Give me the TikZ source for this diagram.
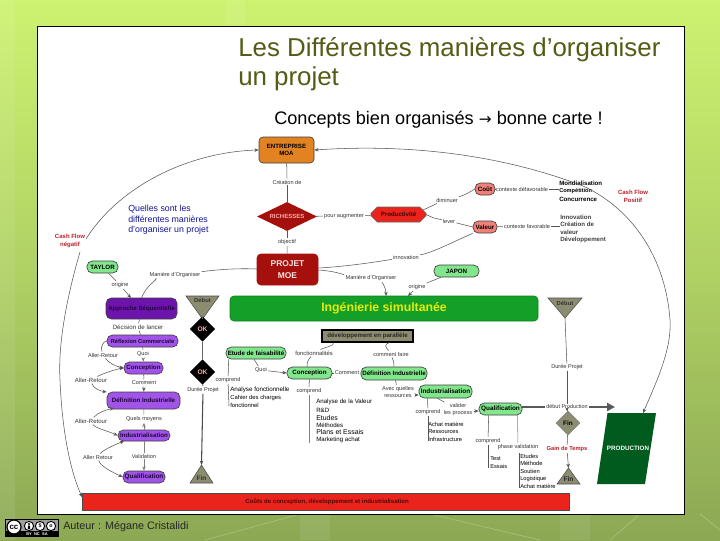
\documentclass[tikz,border=0pt]{standalone}
\usepackage{fontspec}
\setmainfont{Liberation Sans}
\newfontfamily\djv{DejaVu Sans}
\usetikzlibrary{shapes.geometric,shapes.misc,arrows.meta}
\definecolor{bgtop}{RGB}{205,242,112}
\definecolor{bgbot}{RGB}{140,168,84}
\definecolor{ttl}{RGB}{84,92,22}
\definecolor{orng}{RGB}{226,130,32}
\definecolor{dred}{RGB}{165,16,12}
\definecolor{rred}{RGB}{234,36,28}
\definecolor{lgrn}{RGB}{130,230,140}
\definecolor{ingr}{RGB}{20,160,40}
\definecolor{dgrn}{RGB}{0,92,30}
\definecolor{khak}{RGB}{140,140,112}
\definecolor{dpur}{RGB}{108,20,172}
\definecolor{lpur}{RGB}{160,84,232}
\definecolor{salm}{RGB}{240,128,120}
\definecolor{conn}{RGB}{85,85,85}
\definecolor{qblu}{RGB}{20,20,150}
\definecolor{cfr}{RGB}{190,30,40}
\definecolor{pinkt}{RGB}{250,170,170}
\newcommand{\fsz}[1]{\fontsize{#1}{#1}\selectfont}
\tikzset{
 x=0.75pt,y=-0.75pt,
 bw/.style={minimum width=#1*0.75pt},
 bh/.style={minimum height=#1*0.75pt},
 lbl/.style={inner sep=0.8pt,font=\fsz{4.2},text=black!80},
 lst/.style={inner sep=0pt,anchor=west,font=\fsz{4.6},text=black},
 rbox/.style={draw=black!75,line width=0.5pt,rounded corners=3pt,inner sep=0pt,font=\bfseries\fsz{4.65}},
 gbox/.style={rbox,fill=lgrn},
 pbox/.style={rbox,fill=lpur,text=black!70!dpur},
 cn/.style={draw=conn,line width=0.4pt},
 ar/.style={cn,-{Stealth[length=3.2pt,width=2.6pt]}},
 okd/.style={diamond,fill=black,text=pinkt,inner sep=0pt,aspect=1,minimum size=19pt,font=\bfseries\fsz{5}},
 khk/.style={fill=khak,draw=black!70,line width=0.4pt},
 cash/.style={font=\bfseries\fsz{4.5},text=cfr,align=center,inner sep=0pt},
}
\begin{document}
\begin{tikzpicture}
\useasboundingbox (0,0) rectangle (720,540);
% slide background
\shade[top color=bgtop,bottom color=bgbot,middle color=bgtop!55!bgbot] (0,0) rectangle (720,540);
\draw[white,opacity=0.25,line width=0.5pt] (205,540) -- (300,514) (430,514) -- (540,540) (610,540) -- (640,514) (700,514) -- (720,530);
\fill[white,opacity=0.08] (560,514) rectangle (590,540) (300,514) rectangle (330,540) (0,0) rectangle (15,540) (225,0) rectangle (245,27);
\fill[white] (37,26.5) rectangle (684.5,514);
\draw[black,line width=0.7pt] (37,26.5) rectangle (684.5,514);
% title
\node[anchor=west,inner sep=0pt,text=ttl,font=\fsz{19.4}] (t1) at (238,50) {Les Différentes manières d’organiser};
\node[anchor=west,inner sep=0pt,text=ttl,font=\fsz{19.4}] (t2) at (238,79) {un projet};
\node[anchor=west,inner sep=0pt,font=\fsz{13.6}] (t3) at (274,120) {Concepts bien organisés {\djv\fsz{11.5}→} bonne carte !};
% footer
\node[anchor=west,inner sep=0pt,text=black!85,font=\fsz{8.1}] (aut) at (63,527) {Auteur : Mégane Cristalidi};
\fill[black] (5,519) rectangle (58.5,537);
\fill[gray!75] (6,520) rectangle (57.5,531);
\draw[black,fill=white,line width=0.9pt] (14,527) circle[radius=7];
\node[inner sep=0pt,font=\bfseries\fsz{6}] (cc) at (14,527) {cc};
\foreach \cx in {29,40,51}{\draw[black,fill=white,line width=0.7pt] (\cx,526) circle[radius=4.6];}
\fill[black] (29,524) circle[radius=1.1] (27.8,525.5) rectangle (30.2,529);
\node[inner sep=0pt,font=\bfseries\fsz{4}] (nc) at (40,526) {\$};
\node[inner sep=0pt,font=\bfseries\fsz{4}] (sa) at (51,526) {o};
\node[inner sep=0pt,text=white,font=\bfseries\fsz{3}] (bynd) at (37,534) {BY\ \ NC\ \ SA};

% red bar
\node[draw=black!70,fill=rred,bw=487,bh=17,inner sep=0pt,anchor=north west,font=\bfseries\fsz{4.6},text=dred!80!black] (bar) at (82,493) {};
\node[inner sep=0pt,font=\bfseries\fsz{4.55},text=black!50!dred] (bart) at (327,501.5) {Coûts de conception, développement et industrialisation};

% main nodes, top
\node[rbox,fill=orng,bw=55,bh=26,align=center,font=\bfseries\fsz{4.6}] (ent) at (286.5,150) {ENTREPRISE\\[1pt]MOA};
\node[diamond,fill=dred,bw=60,bh=29,aspect=2,inner sep=0pt,text=pinkt,font=\bfseries\fsz{4.5}] (ric) at (287,216.5) {RICHESSES};
\node[chamfered rectangle,chamfered rectangle xsep=3pt,chamfered rectangle ysep=3pt,draw=black!60,fill=rred,bw=55,bh=15,inner sep=0pt,font=\bfseries\fsz{4.6},text=black!70!dred] (pro) at (398.5,214.5) {Productivité};
\node[rbox,fill=dred,draw=dred,bw=61,bh=31,align=center,text=pinkt!30!white,font=\bfseries\fsz{6.3}] (moe) at (287.5,269.5) {PROJET\\[2.5pt]MOE};
\node[rbox,fill=salm,bw=20,bh=12,rounded corners=4pt] (cou) at (485,189) {Coût};
\node[rbox,fill=salm,bw=24,bh=12,rounded corners=4pt] (val) at (485,227) {Valeur};
\node[gbox,bw=31,bh=12,rounded corners=4pt] (tay) at (102.5,267) {TAYLOR};
\node[gbox,bw=45,bh=12,rounded corners=4pt] (jap) at (456.5,271) {JAPON};
\node[rbox,fill=ingr,draw=ingr!80!black,bw=308,bh=25,text=yellow!90!green,font=\bfseries\fsz{9.2}] (ing) at (384,308.5) {Ingénierie simultanée};
\node[rbox,fill=dpur,bw=71,bh=21,text=black!65!dpur,font=\bfseries\fsz{4.6},rounded corners=4pt] (app) at (141.5,308.5) {Approche Séquentielle};

% top labels
\node[lbl] (lcre) at (287,182) {Création de};
\node[lbl] (lpou) at (344,216) {pour augmenter};
\node[lbl] (lobj) at (287,242) {objectif};
\node[lbl] (ldim) at (447,200) {diminuer};
\node[lbl] (llev) at (449,221) {lever};
\node[lbl] (linn) at (406,257) {innovation};
\node[lbl] (lman) at (371,278) {Manière d’Organiser};
\node[lbl] (lmao) at (175,275) {Manière d’Organiser};
\node[lbl] (lor1) at (120,285) {origine};
\node[lbl] (lor2) at (417,287) {origine};
\node[lbl] (lcd) at (522,189) {contexte défavorable};
\node[lbl] (lcf) at (527,226) {contexte favorable};

% lists top right
\node[lst,font=\bfseries\fsz{4.6}] (m1) at (559,183.5) {Mondialisation};
\node[lst,font=\bfseries\fsz{4.2}] (m2) at (559,191) {Compétition};
\node[lst,font=\bfseries\fsz{4.6}] (m3) at (559,199) {Concurrence};
\node[lst,text=black!75,font=\bfseries\fsz{4.6}] (i1) at (560,217) {Innovation};
\node[lst,text=black!75,font=\bfseries\fsz{4.6}] (i2) at (560,224.5) {Création de};
\node[lst,text=black!75,font=\bfseries\fsz{4.6}] (i3) at (560,232) {valeur};
\node[lst,text=black!75,font=\bfseries\fsz{4.6}] (i4) at (560,240) {Développement};
\node[cash] (cfp) at (633,196.5) {Cash Flow\\[1.5pt]Positif};
\node[cash] (cfn) at (70,241) {Cash Flow\\[1.5pt]négatif};
\node[inner sep=0pt,anchor=west,align=left,text=qblu,font=\fsz{6.6}] (ques) at (128,220) {Quelles sont les\\[1.2pt]différentes manières\\[1.2pt]d’organiser un projet};

% top connectors
\draw[cn] (ent) -- (lcre);
\draw[cn] (lcre) -- (ric);
\draw[cn] (ric) -- (lpou);
\draw[cn] (lpou) -- (pro);
\draw[cn] (ric) -- (lobj);
\draw[cn] (lobj) -- (moe);
\draw[cn] (pro.north east) .. controls (432,206) and (438,203) .. (ldim);
\draw[cn] (ldim) .. controls (458,197) and (466,195) .. (cou.west);
\draw[cn] (pro.east) .. controls (432,218) and (438,219) .. (llev);
\draw[cn] (llev) -- (val.west);
\draw[cn] (moe.east |- 0,268) .. controls (340,267) and (370,263) .. (linn);
\draw[cn] (linn) .. controls (432,253) and (455,241) .. (val.south west);
\draw[cn] (moe.east |- 0,270) .. controls (335,271) and (345,275) .. (lman);
\draw[ar] (lman) .. controls (382,282) and (386,288) .. (386,296);
\draw[cn] (moe.west |- 0,269) .. controls (235,268) and (215,270) .. (lmao);
\draw[cn] (lmao) .. controls (160,278) and (146,285) .. (app.north |- 0,298);
\draw[cn] (tay) -- (lor1);
\draw[ar] (lor1) -- (131,298);
\draw[cn] (jap) -- (lor2);
\draw[ar] (lor2) -- (408,296);
\draw[cn] (cou) -- (lcd);
\draw[cn] (lcd) -- (m1.west |- lcd);
\draw[cn] (val) -- (lcf);
\draw[cn] (lcf) -- (i2.west |- lcf);

% big curves
\coordinate (gl1) at (86,239);
\coordinate (gl2) at (80,252);
\draw[ar] (gl1) .. controls (120,185) and (190,152) .. (ent.west);
\draw[ar] (gl2) .. controls (66,300) and (58,345) .. (60,380) .. controls (62,430) and (70,470) .. (82,497);

% left column
\node[pbox,bw=71,bh=12,font=\bfseries\fsz{4.3},rounded corners=4pt] (ref) at (142.5,341) {Réflexion Commerciale};
\node[pbox,bw=39,bh=12,rounded corners=4pt] (con) at (143.5,368) {Conception};
\node[pbox,bw=73,bh=17,rounded corners=4pt] (def) at (143.5,400.5) {Définition Industrielle};
\node[pbox,bw=52,bh=11,rounded corners=4pt] (ind) at (144,435.5) {Industrialisation};
\node[pbox,bw=42,bh=12,rounded corners=4pt,font=\bfseries\fsz{4.8}] (qua) at (144,477) {Qualification};
\node[lbl,font=\fsz{4.6}] (ldec) at (138,327) {Décision de lancer};
\node[lbl] (lquo) at (143,354) {Quoi};
\node[lbl] (lcom) at (144,383) {Comment};
\node[lbl] (lqm) at (144,419) {Quels moyens};
\node[lbl] (lval) at (144,456) {Validation};
\node[lbl] (a1) at (103,355) {Aller-Retour};
\node[lbl,font=\fsz{4.5}] (a2) at (91,380) {Aller-Retour};
\node[lbl,font=\fsz{4.5}] (a3) at (91,421) {Aller-Retour};
\node[lbl] (a4) at (98,457) {Aller Retour};
\draw[cn] (app) -- (ldec);
\draw[cn] (ldec) -- (ref);
\draw[cn] (ref) -- (lquo);
\draw[ar,draw=gray] (lquo) -- (con);
\draw[cn] (con) -- (lcom);
\draw[ar] (lcom) -- (def);
\draw[cn,draw=gray] (def) -- (lqm);
\draw[ar,draw=gray] (ind) -- (lqm);
\draw[cn,draw=gray] (ind) -- (lval);
\draw[ar,draw=gray] (lval) -- (qua);
\draw[cn] (ref.west) .. controls (104,341) and (100,346) .. (a1);
\draw[ar] (a1) .. controls (108,362) and (114,366) .. (con.west);
\draw[ar] (a2) .. controls (100,375) and (112,370) .. (con.west);
\draw[ar] (a2) .. controls (93,388) and (100,391) .. (def.west |- 0,392);
\draw[ar] (a3) .. controls (98,412) and (106,410) .. (114,408);
\draw[ar] (a3) .. controls (95,428) and (108,431) .. (ind.west);
\draw[ar] (a4) .. controls (103,450) and (112,446) .. (124,441);
\draw[ar] (a4) .. controls (100,466) and (112,472) .. (qua.west);

% left timeline
\fill[khk] (186,296) -- (219,296) -- (202.5,319) -- cycle;
\node[inner sep=0pt,font=\bfseries\fsz{4.4},text=black!80] (dl) at (202.5,300.5) {Début};
\coordinate (dla) at (202.5,319);
\node[okd] (ok1) at (202.5,329) {OK};
\node[okd] (ok2) at (202.5,372) {OK};
\node[lbl,font=\fsz{4.2}] (ldp1) at (203,390) {Durée Projet};
\fill[khk] (190,483) -- (213,483) -- (201.5,465) -- cycle;
\node[inner sep=0pt,font=\bfseries\fsz{4.8},text=black!80] (fl) at (201.5,478) {Fin};
\coordinate (fla) at (201.5,465);
\draw[cn,line width=0.8pt,draw=gray!80!black] (dla) -- (ok1);
\draw[cn,line width=0.8pt,draw=gray!80!black] (ok1) -- (ok2);
\draw[cn,draw=gray!80!black,line width=0.8pt] (ok2) -- (ldp1);
\draw[ar,line width=0.8pt,draw=gray!60!black] (ldp1) -- (fla);

% middle
\node[rbox,rounded corners=0pt,fill=khak,draw=black,line width=0.8pt,bw=91,bh=12,font=\bfseries\fsz{4.6},text=black!85] (par) at (367.5,336) {développement en parallèle};
\node[gbox,bw=60,bh=12,rounded corners=4pt] (etu) at (256,353) {Etude de faisabilité};
\node[gbox,bw=45,bh=12,rounded corners=4pt] (con2) at (309.5,373) {Conception};
\node[gbox,bw=66,bh=13,rounded corners=4pt] (def2) at (394,373.5) {Définition Industrielle};
\node[gbox,bw=53,bh=13,rounded corners=4pt,font=\bfseries\fsz{4.8}] (ind2) at (445.5,391.5) {Industrialisation};
\node[gbox,bw=43,bh=12,rounded corners=4pt,font=\bfseries\fsz{4.8}] (qua2) at (500.5,409) {Qualification};
\node[lbl,font=\fsz{4.4}] (lfon) at (314,353) {fonctionnalités};
\node[lbl] (lcfa) at (391,354) {comment faire};
\node[lbl] (lq2) at (261,370) {Quoi};
\node[lbl] (lc2) at (347,373) {Comment};
\node[lbl] (lcp0) at (228,380) {comprend};
\node[lbl] (lcp1) at (309,391) {comprend};
\node[lbl,align=center] (lres) at (398,392) {Avec quelles\\[1.5pt]ressources};
\node[lbl] (lcp2) at (428,412) {comprend};
\node[lbl,align=center] (lvp) at (458,409.5) {valider\\[1pt]les process};
\node[lbl] (lcp3) at (488,441) {comprend};
\node[lbl] (lpha) at (518,447) {phase validation};
\node[lst,font=\fsz{4.7}] (f1) at (230,390) {Analyse fonctionnelle};
\node[lst,font=\fsz{4.4}] (f2) at (230,398) {Cahier des charges};
\node[lst,font=\fsz{4.4}] (f3) at (230,405.5) {fonctionnel};
\node[lst] (g1) at (316,402) {Analyse de la Valeur};
\node[lst] (g2) at (316,410) {R\&D};
\node[lst,font=\fsz{5.2}] (g3) at (316,418) {Etudes};
\node[lst] (g4) at (316,425) {Méthodes};
\node[lst,font=\fsz{5.2}] (g5) at (316,432.5) {Plans et Essais};
\node[lst] (g6) at (316,440) {Marketing achat};
\node[lst,font=\fsz{4.3}] (h1) at (428,424) {Achat matière};
\node[lst,font=\fsz{4.3}] (h2) at (428,431.5) {Ressources};
\node[lst,font=\fsz{4.3}] (h3) at (428,439) {Infrastructure};
\node[lst,font=\fsz{4.3}] (k1) at (490,459) {Test};
\node[lst,font=\fsz{4.3}] (k2) at (490,466) {Essais};
\node[lst,font=\fsz{4.3}] (n1) at (520,456) {Etudes};
\node[lst,font=\fsz{4.3}] (n2) at (520,463.5) {Méthode};
\node[lst,font=\fsz{4.3}] (n3) at (520,471) {Soutien};
\node[lst,font=\fsz{4.3}] (n4) at (520,479) {Logistique};
\node[lst,font=\fsz{4.3}] (n5) at (520,486.5) {Achat matière};
\draw[cn] (par.south west) ++(12,0) .. controls (335,346) and (325,347) .. (lfon);
\draw[cn] (lfon) .. controls (308,360) and (307,362) .. (307,367);
\draw[cn] (par.south east) ++(-24,0) .. controls (383,345) and (386,347) .. (lcfa);
\draw[cn] (lcfa) .. controls (393,360) and (394,362) .. (def2.north);
\draw[cn] (etu.south) ++(-2,0) -- (lq2);
\draw[ar] (lq2) -- (con2.west);
\draw[cn] (con2) -- (lc2);
\draw[cn] (lc2) -- (def2);
\draw[cn] (def2) -- (lres);
\draw[ar] (lres.east |- 0,395) -- (ind2.west |- 0,395);
\draw[cn] (ind2.south) ++(-18,0) -- (lcp2);
\draw[cn] (lcp2) -- (h3.north west |- 0,441);
\draw[cn] (ind2.south) ++(-8,0) -- (lvp);
\draw[ar] (lvp.east |- 0,411) -- (qua2.west |- 0,411);
\draw[cn] (con2) -- (lcp1);
\draw[cn,draw=gray] (lcp1) -- (309,443);
\draw[cn] (etu.south west) ++(3,0) -- (lcp0);
\draw[cn] (lcp0) -- (229,406);
\draw[cn] (qua2.south west) ++(10,0) -- (lcp3);
\draw[cn] (lcp3) -- (488,468);
\draw[cn,draw=gray] (qua2.south) ++(17,0) -- (lpha);
\draw[cn] (n1.west) ++(-1,-3) -- (519,488);

% right timeline
\fill[khk] (548,298) -- (582,298) -- (565,318) -- cycle;
\node[inner sep=0pt,font=\bfseries\fsz{4.4},text=black!80] (dr) at (565,303) {Début};
\coordinate (dra) at (565,318);
\node[lbl] (ldp2) at (567,367) {Durée Projet};
\node[lbl,font=\fsz{4.1}] (ldep) at (567,407) {début Production};
\node[diamond,fill=khak,draw=black!50,inner sep=0pt,minimum size=18pt,aspect=1,font=\bfseries\fsz{4.8}] (fd) at (568,423) {Fin};
\node[lbl,text=cfr,font=\bfseries\fsz{4.3}] (lgt) at (567,449) {Gain de Temps};
\fill[khk] (557,484) -- (580,484) -- (568.5,468) -- cycle;
\node[inner sep=0pt,font=\bfseries\fsz{5},text=black!85] (fr) at (568.5,479) {Fin};
\coordinate (fra) at (568.5,468);
\draw[cn] (dra) -- (ldp2);
\draw[cn] (ldp2) -- (ldep);
\draw[ar] (ldep) -- (fd);
\draw[cn] (fd) -- (lgt);
\draw[ar] (lgt) -- (fra);
\draw[draw=black!65,line width=1.6pt] (qua2.east |- ldep) -- (ldep);
\coordinate (thk) at (615,407);
\draw[draw=black!65,line width=1.6pt,-{Triangle[length=6pt,width=6pt]}] (ldep) -- (thk);

% production
\fill[dgrn] (607.5,413) -- (656,413) -- (645,484) -- (597,484) -- cycle;
\node[inner sep=0pt,text=white,font=\bfseries\fsz{4.7}] (prd) at (628,448.5) {PRODUCTION};
\coordinate (pta) at (643,413);
\draw[ar,<->,>={Stealth[length=3.2pt,width=2.6pt]}] (ent.east) .. controls (420,143) and (510,158) .. (583,186) .. controls (625,205) and (665,250) .. (670,320) .. controls (672,350) and (655,385) .. (pta);
\end{tikzpicture}
\end{document}
